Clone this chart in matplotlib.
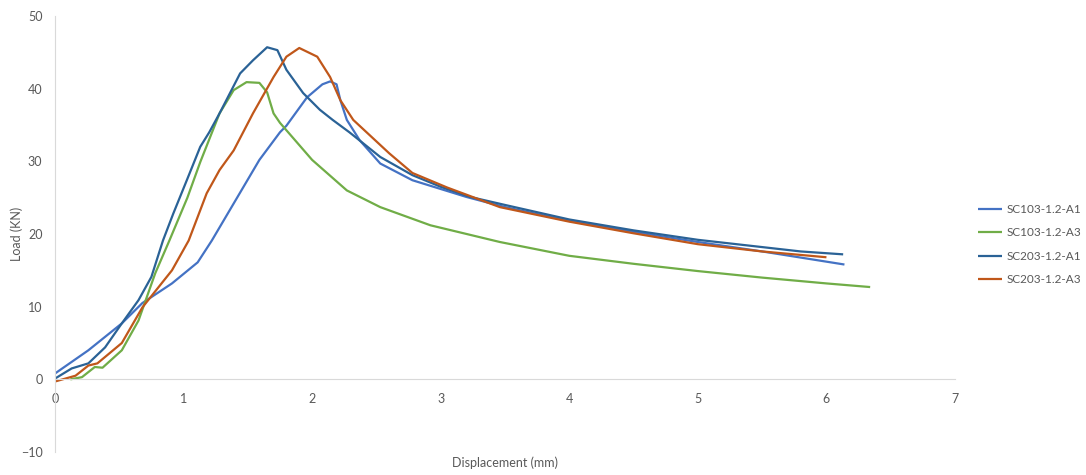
import matplotlib.pyplot as plt

plt.rcParams['font.family'] = ['Lato', 'DejaVu Sans']

labels = ['SC103-1.2-A1', 'SC103-1.2-A3', 'SC203-1.2-A1', 'SC203-1.2-A3']
colors = ['#4472C4', '#70AD47', '#2A6296', '#C0571A']

# SC103-1.2-A1
x_a1 = [0.0, 0.26, 0.52, 0.68, 0.91, 1.11, 1.22, 1.59, 1.75, 1.80, 1.96, 2.08, 2.14, 2.19,
        2.22, 2.27, 2.37, 2.53, 2.78, 3.2, 3.5, 4.0, 4.5, 5.0, 5.5, 6.14]
y_a1 = [0.8, 4.0, 7.7, 10.5, 13.2, 16.1, 19.1, 30.2, 34.0, 34.9, 38.8, 40.6, 41.0, 40.6,
        38.4, 35.7, 32.9, 29.7, 27.4, 25.1, 23.7, 21.8, 20.3, 18.9, 17.6, 15.8]

# SC103-1.2-A3
x_a3 = [0.12, 0.21, 0.31, 0.37, 0.52, 0.65, 0.78, 0.89, 1.03, 1.13, 1.28, 1.39,
        1.49, 1.59, 1.65, 1.70, 1.75, 2.0, 2.27, 2.53, 2.92, 3.46, 4.0, 4.5, 5.0, 5.5,
        6.0, 6.34]
y_a3 = [0.0, 0.3, 1.7, 1.6, 4.0, 8.1, 14.6, 19.1, 25.0, 29.9, 36.6, 39.8,
        40.9, 40.8, 39.5, 36.6, 35.3, 30.2, 26.0, 23.7, 21.2, 18.9, 17.0, 15.9, 14.9, 14.0,
        13.2, 12.7]

# SC203-1.2-A1
x_b1 = [0.0, 0.13, 0.26, 0.39, 0.52, 0.65, 0.75, 0.84, 0.92, 1.03, 1.13, 1.20, 1.28,
        1.44, 1.54, 1.65, 1.73, 1.80, 1.93, 2.06, 2.16, 2.29, 2.53, 2.78, 3.0, 3.23,
        3.5, 4.0, 4.5, 5.0, 5.5, 5.8, 6.13]
y_b1 = [0.1, 1.5, 2.2, 4.4, 7.7, 10.9, 14.1, 19.1, 22.8, 27.6, 32.0, 34.0, 36.6,
        42.1, 43.9, 45.7, 45.3, 42.6, 39.4, 37.1, 35.7, 34.0, 30.6, 28.1, 26.5, 25.1,
        24.0, 22.0, 20.5, 19.2, 18.2, 17.6, 17.2]

# SC203-1.2-A3
x_b3 = [0.0, 0.16, 0.26, 0.33, 0.52, 0.68, 0.91, 1.04, 1.18, 1.28, 1.39, 1.54,
        1.70, 1.80, 1.90, 2.04, 2.14, 2.22, 2.32, 2.6, 2.78, 3.05, 3.46, 4.0,
        4.5, 5.0, 5.5, 6.0]
y_b3 = [-0.3, 0.5, 1.9, 2.2, 5.0, 9.9, 15.0, 19.1, 25.6, 28.8, 31.5, 36.6,
        41.6, 44.4, 45.6, 44.4, 41.6, 38.4, 35.7, 31.1, 28.4, 26.4, 23.7, 21.7,
        20.1, 18.6, 17.6, 16.8]

series = [(x_a1, y_a1), (x_a3, y_a3), (x_b1, y_b1), (x_b3, y_b3)]

fig = plt.figure(figsize=(10.86, 4.75), dpi=100)
ax = fig.add_axes([0.0506, 0.0484, 0.8288, 0.9179])

for (xs, ys), lab, c in zip(series, labels, colors):
    ax.plot(xs, ys, color=c, lw=1.6, label=lab, solid_capstyle='butt', solid_joinstyle='round')

ax.set_xlim(0, 7)
ax.set_ylim(-10, 50)
ax.set_xticks(range(0, 8))
ax.set_yticks(range(-10, 51, 10))

for s in ['top', 'right']:
    ax.spines[s].set_visible(False)
ax.spines['bottom'].set_position(('data', 0))
ax.spines['bottom'].set_color('#D9D9D9')
ax.spines['left'].set_color('#D9D9D9')
ax.tick_params(length=0, labelsize=9, colors='#595959')
ax.tick_params(axis='x', pad=10)
ax.tick_params(axis='y', pad=9)

ax.set_ylabel('Load (KN)', fontsize=9, color='#595959')
ax.yaxis.set_label_coords(-0.036, 0.5)
ax.text(0.5, -0.025, 'Displacement (mm)', transform=ax.transAxes,
        ha='center', va='center', fontsize=9, color='#595959')

leg = fig.legend(loc='center left', bbox_to_anchor=(0.901, 0.485), frameon=False,
                 fontsize=8.5, handlelength=2.0, handletextpad=0.35, labelspacing=1.05,
                 borderaxespad=0, borderpad=0)
for t in leg.get_texts():
    t.set_color('#595959')

fig.savefig('out.png', dpi=100)
